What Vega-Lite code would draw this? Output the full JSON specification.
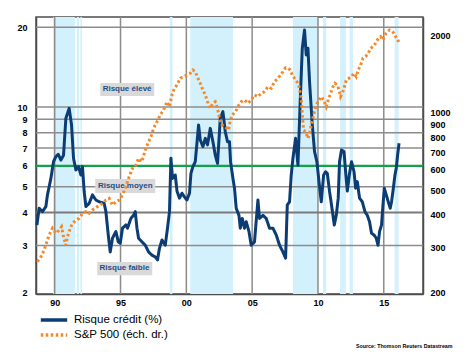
{
  "$schema": "https://vega.github.io/schema/vega-lite/v6.json",
  "width": 387,
  "height": 277,
  "autosize": {"type": "none"},
  "padding": {"left": 36, "top": 17, "right": 47, "bottom": 58},
  "background": "white",
  "config": {
    "font": "Liberation Sans",
    "view": {"stroke": "#4d4d4d", "strokeWidth": 1.5},
    "axis": {"labelFont": "Liberation Sans", "labelFontWeight": "bold", "labelFontSize": 9, "labelColor": "#000", "tickSize": 0, "tickOpacity": 0, "domainColor": "#4d4d4d", "domainWidth": 1.5, "grid": false, "title": null},
    "legend": {"padding": 0}
  },
  "resolve": {"scale": {"y": "independent"}},
  "layer": [
    {
      "layer": [
        {
          "data": {"values": [
            {"s": 1989.88, "e": 1991.55},
            {"s": 1991.68, "e": 1991.85},
            {"s": 1991.95, "e": 1992.08},
            {"s": 1998.75, "e": 1998.95},
            {"s": 2000.3, "e": 2003.55},
            {"s": 2008.1, "e": 2010.0},
            {"s": 2010.38, "e": 2010.63},
            {"s": 2011.68, "e": 2012.12},
            {"s": 2012.4, "e": 2012.66},
            {"s": 2015.82, "e": 2016.12}
          ]},
          "mark": {"type": "rect", "color": "#d3f1fc"},
          "encoding": {
            "x": {"field": "s", "type": "quantitative", "scale": {"domain": [1988.58, 2017.98], "nice": false, "zero": false},
              "axis": {"values": [1990, 1995, 2000, 2005, 2010, 2015], "labelExpr": "slice(toString(datum.value), 2)", "labelPadding": 4, "orient": "bottom",
                "title": "Source: Thomson Reuters Datastream", "titleFont": "Liberation Sans", "titleFontSize": 5.3, "titleFontWeight": "bold", "titleColor": "#000", "titleAnchor": "end", "titleAlign": "right", "titleBaseline": "middle", "titleX": 416, "titleY": 51}},
            "x2": {"field": "e"}
          }
        },
        {
          "data": {"values": [{"g": 1990}, {"g": 1995}, {"g": 2000}, {"g": 2005}, {"g": 2010}, {"g": 2015}]},
          "mark": {"type": "rule", "color": "#8c8c8c", "strokeWidth": 1.5},
          "encoding": {"x": {"field": "g", "type": "quantitative"}}
        },
        {
          "data": {"values": [{"g": 3}, {"g": 5}, {"g": 7}, {"g": 8}, {"g": 9}, {"g": 10}, {"g": 20}]},
          "mark": {"type": "rule", "color": "#8c8c8c", "strokeWidth": 1.5},
          "encoding": {"y": {"field": "g", "type": "quantitative"}}
        },
        {
          "data": {"values": [{"v": 4}]},
          "mark": {"type": "rule", "color": "#7a7a7a", "strokeWidth": 2.2},
          "encoding": {"y": {"field": "v", "type": "quantitative"}}
        },
        {
          "data": {"values": [{"v": 6}]},
          "mark": {"type": "rule", "color": "#13a14a", "strokeWidth": 2.2},
          "encoding": {"y": {"field": "v", "type": "quantitative"}}
        },
        {
          "data": {"values": [
            {"x1": 1993.46, "x2": 1997.56, "y1": 11.0, "y2": 12.33},
            {"x1": 1993.08, "x2": 1997.64, "y1": 4.74, "y2": 5.35},
            {"x1": 1993.23, "x2": 1997.41, "y1": 2.32, "y2": 2.6}
          ]},
          "mark": {"type": "rect", "color": "#d9d9d9"},
          "encoding": {
            "x": {"field": "x1", "type": "quantitative"},
            "x2": {"field": "x2"},
            "y": {"field": "y1", "type": "quantitative"},
            "y2": {"field": "y2"}
          }
        },
        {
          "data": {"values": [
            {"x": 1995.5, "y": 11.65, "label": "Risque élevé"},
            {"x": 1995.36, "y": 5.04, "label": "Risque moyen"},
            {"x": 1995.3, "y": 2.46, "label": "Risque faible"}
          ]},
          "mark": {"type": "text", "font": "Liberation Sans", "fontWeight": "bold", "fontSize": 8, "color": "#1f4e86", "align": "center", "baseline": "middle"},
          "encoding": {
            "x": {"field": "x", "type": "quantitative"},
            "y": {"field": "y", "type": "quantitative"},
            "text": {"field": "label"}
          }
        },
        {
          "data": {"values": [
            {"t":1988.65,"v":3.59},{"t":1988.82,"v":4.15},{"t":1989.07,"v":4.03},{"t":1989.33,"v":4.21},{"t":1989.45,"v":4.66},{"t":1989.71,"v":5.38},{"t":1989.91,"v":6.22},{"t":1990.09,"v":6.5},{"t":1990.27,"v":6.63},{"t":1990.47,"v":6.31},{"t":1990.67,"v":6.58},{"t":1990.85,"v":9.07},{"t":1991.1,"v":9.89},{"t":1991.28,"v":8.56},{"t":1991.43,"v":6.41},{"t":1991.61,"v":5.79},{"t":1991.81,"v":5.96},{"t":1991.99,"v":5.54},{"t":1992.11,"v":5.96},{"t":1992.24,"v":4.8},{"t":1992.37,"v":4.21},{"t":1992.62,"v":4.33},{"t":1992.87,"v":4.66},{"t":1993.13,"v":4.46},{"t":1993.38,"v":4.39},{"t":1993.76,"v":4.33},{"t":1993.89,"v":4.03},{"t":1994.07,"v":3.29},{"t":1994.22,"v":2.84},{"t":1994.39,"v":3.2},{"t":1994.65,"v":3.39},{"t":1994.83,"v":3.1},{"t":1994.98,"v":3.06},{"t":1995.15,"v":3.49},{"t":1995.41,"v":3.59},{"t":1995.53,"v":3.49},{"t":1995.79,"v":3.8},{"t":1995.99,"v":3.9},{"t":1996.12,"v":4.03},{"t":1996.25,"v":3.49},{"t":1996.37,"v":3.2},{"t":1996.63,"v":3.1},{"t":1996.88,"v":3.01},{"t":1997.13,"v":2.84},{"t":1997.39,"v":2.76},{"t":1997.64,"v":2.72},{"t":1997.81,"v":2.65},{"t":1997.96,"v":2.93},{"t":1998.15,"v":3.15},{"t":1998.4,"v":3.01},{"t":1998.57,"v":3.49},{"t":1998.72,"v":4.03},{"t":1998.83,"v":6.41},{"t":1998.95,"v":5.38},{"t":1999.16,"v":5.54},{"t":1999.29,"v":4.82},{"t":1999.48,"v":4.53},{"t":1999.67,"v":4.73},{"t":1999.84,"v":4.59},{"t":2000.05,"v":4.46},{"t":2000.24,"v":4.73},{"t":2000.35,"v":5.62},{"t":2000.5,"v":5.96},{"t":2000.68,"v":6.22},{"t":2000.93,"v":8.56},{"t":2001.06,"v":7.51},{"t":2001.26,"v":7.09},{"t":2001.44,"v":7.62},{"t":2001.61,"v":7.2},{"t":2001.82,"v":8.31},{"t":2002.02,"v":7.4},{"t":2002.2,"v":6.58},{"t":2002.37,"v":6.13},{"t":2002.58,"v":9.07},{"t":2002.78,"v":9.61},{"t":2002.96,"v":8.07},{"t":2003.13,"v":7.4},{"t":2003.28,"v":7.4},{"t":2003.36,"v":6.22},{"t":2003.54,"v":5.38},{"t":2003.66,"v":4.94},{"t":2003.79,"v":4.15},{"t":2004.0,"v":3.9},{"t":2004.1,"v":3.49},{"t":2004.25,"v":3.8},{"t":2004.42,"v":3.49},{"t":2004.55,"v":3.69},{"t":2004.76,"v":3.39},{"t":2004.93,"v":3.01},{"t":2005.18,"v":3.1},{"t":2005.44,"v":4.46},{"t":2005.56,"v":3.8},{"t":2005.82,"v":3.9},{"t":2006.07,"v":3.8},{"t":2006.32,"v":3.49},{"t":2006.58,"v":3.49},{"t":2006.83,"v":3.29},{"t":2007.08,"v":3.01},{"t":2007.34,"v":2.84},{"t":2007.54,"v":2.69},{"t":2007.67,"v":4.27},{"t":2007.84,"v":4.39},{"t":2007.97,"v":5.54},{"t":2008.1,"v":6.41},{"t":2008.3,"v":7.62},{"t":2008.48,"v":6.03},{"t":2008.66,"v":10.79},{"t":2008.81,"v":16.67},{"t":2008.98,"v":19.54},{"t":2009.11,"v":15.73},{"t":2009.24,"v":16.67},{"t":2009.36,"v":12.47},{"t":2009.57,"v":8.56},{"t":2009.74,"v":6.79},{"t":2009.92,"v":6.22},{"t":2010.08,"v":5.23},{"t":2010.25,"v":4.39},{"t":2010.43,"v":5.54},{"t":2010.58,"v":5.7},{"t":2010.71,"v":5.62},{"t":2010.88,"v":4.8},{"t":2011.03,"v":4.27},{"t":2011.14,"v":3.9},{"t":2011.24,"v":3.59},{"t":2011.39,"v":3.9},{"t":2011.54,"v":4.53},{"t":2011.64,"v":6.22},{"t":2011.79,"v":6.89},{"t":2011.98,"v":6.79},{"t":2012.1,"v":5.7},{"t":2012.23,"v":4.82},{"t":2012.4,"v":5.62},{"t":2012.55,"v":6.22},{"t":2012.74,"v":5.7},{"t":2012.86,"v":4.94},{"t":2012.99,"v":5.23},{"t":2013.16,"v":4.53},{"t":2013.37,"v":4.39},{"t":2013.57,"v":4.03},{"t":2013.75,"v":3.9},{"t":2013.92,"v":3.69},{"t":2014.07,"v":3.34},{"t":2014.26,"v":3.29},{"t":2014.43,"v":3.2},{"t":2014.56,"v":3.01},{"t":2014.68,"v":3.39},{"t":2014.83,"v":3.59},{"t":2014.94,"v":4.27},{"t":2015.04,"v":4.94},{"t":2015.19,"v":4.66},{"t":2015.34,"v":4.39},{"t":2015.49,"v":4.15},{"t":2015.59,"v":4.39},{"t":2015.7,"v":4.82},{"t":2015.85,"v":5.54},{"t":2015.95,"v":5.87},{"t":2016.05,"v":6.58},{"t":2016.16,"v":7.3}
          ]},
          "mark": {"type": "line", "strokeWidth": 3, "strokeJoin": "round"},
          "encoding": {
            "x": {"field": "t", "type": "quantitative"},
            "y": {"field": "v", "type": "quantitative",
              "scale": {"type": "log", "domain": [1.97, 21.87], "nice": false},
              "axis": {"values": [2, 3, 4, 5, 6, 7, 8, 9, 10, 20], "labelPadding": 9, "orient": "left"}},
            "color": {"datum": "Risque crédit (%)", "type": "nominal",
              "scale": {"domain": ["Risque crédit (%)", "S&P 500 (éch. dr.)"], "range": ["#0b3d74", "#f5892a"]},
              "legend": {"orient": "none", "legendX": 10, "legendY": 295, "title": null, "symbolType": "M-2.2,0H2.2", "symbolStrokeWidth": 3.5, "symbolSize": 144, "labelFontSize": 11.5, "labelFont": "Liberation Sans", "labelColor": "#000", "rowPadding": 0, "labelOffset": 12}},
            "strokeDash": {"datum": "Risque crédit (%)", "type": "nominal",
              "scale": {"domain": ["Risque crédit (%)", "S&P 500 (éch. dr.)"], "range": [[1, 0], [2.5, 2.5]]},
              "legend": {"orient": "none", "legendX": 10, "legendY": 295, "title": null, "symbolType": "M-2.2,0H2.2", "symbolStrokeWidth": 3.5, "symbolSize": 144, "labelFontSize": 11.5, "labelFont": "Liberation Sans", "labelColor": "#000", "rowPadding": 0, "labelOffset": 12}}
          }
        }
      ]
    },
    {
      "data": {"values": [
        {"t":1988.69,"v":263},{"t":1988.95,"v":275},{"t":1989.2,"v":292},{"t":1989.41,"v":315},{"t":1989.58,"v":334},{"t":1989.83,"v":355},{"t":1990.09,"v":339},{"t":1990.34,"v":349},{"t":1990.52,"v":360},{"t":1990.67,"v":329},{"t":1990.85,"v":305},{"t":1990.97,"v":329},{"t":1991.18,"v":355},{"t":1991.35,"v":371},{"t":1991.61,"v":382},{"t":1991.86,"v":388},{"t":1992.11,"v":406},{"t":1992.37,"v":412},{"t":1992.62,"v":406},{"t":1992.87,"v":418},{"t":1993.25,"v":431},{"t":1993.63,"v":444},{"t":1993.89,"v":457},{"t":1994.14,"v":464},{"t":1994.39,"v":437},{"t":1994.65,"v":450},{"t":1994.9,"v":457},{"t":1995.15,"v":478},{"t":1995.41,"v":515},{"t":1995.66,"v":564},{"t":1995.91,"v":607},{"t":1996.12,"v":616},{"t":1996.37,"v":664},{"t":1996.63,"v":644},{"t":1996.88,"v":716},{"t":1997.13,"v":771},{"t":1997.31,"v":806},{"t":1997.51,"v":869},{"t":1997.77,"v":922},{"t":1998.02,"v":980},{"t":1998.27,"v":1024},{"t":1998.53,"v":1103},{"t":1998.72,"v":1055},{"t":1998.91,"v":1172},{"t":1999.1,"v":1244},{"t":1999.29,"v":1281},{"t":1999.54,"v":1361},{"t":1999.79,"v":1381},{"t":2000.05,"v":1402},{"t":2000.3,"v":1424},{"t":2000.5,"v":1466},{"t":2000.68,"v":1444},{"t":2000.88,"v":1361},{"t":2001.06,"v":1301},{"t":2001.26,"v":1225},{"t":2001.44,"v":1172},{"t":2001.61,"v":1103},{"t":2001.82,"v":1040},{"t":2002.02,"v":1088},{"t":2002.2,"v":1103},{"t":2002.37,"v":1040},{"t":2002.52,"v":951},{"t":2002.71,"v":895},{"t":2002.96,"v":882},{"t":2003.21,"v":856},{"t":2003.32,"v":922},{"t":2003.49,"v":980},{"t":2003.74,"v":1009},{"t":2004.0,"v":1071},{"t":2004.17,"v":1103},{"t":2004.42,"v":1120},{"t":2004.68,"v":1088},{"t":2004.93,"v":1120},{"t":2005.18,"v":1172},{"t":2005.44,"v":1154},{"t":2005.69,"v":1190},{"t":2005.94,"v":1207},{"t":2006.2,"v":1262},{"t":2006.45,"v":1244},{"t":2006.7,"v":1320},{"t":2006.96,"v":1361},{"t":2007.16,"v":1402},{"t":2007.34,"v":1444},{"t":2007.54,"v":1496},{"t":2007.72,"v":1488},{"t":2007.9,"v":1466},{"t":2008.05,"v":1402},{"t":2008.22,"v":1361},{"t":2008.4,"v":1320},{"t":2008.56,"v":1262},{"t":2008.73,"v":1137},{"t":2008.81,"v":980},{"t":2008.91,"v":856},{"t":2009.06,"v":843},{"t":2009.24,"v":794},{"t":2009.36,"v":831},{"t":2009.49,"v":895},{"t":2009.67,"v":980},{"t":2009.87,"v":1071},{"t":2010.08,"v":1120},{"t":2010.25,"v":1154},{"t":2010.43,"v":1120},{"t":2010.53,"v":1088},{"t":2010.63,"v":1055},{"t":2010.78,"v":1120},{"t":2010.96,"v":1190},{"t":2011.14,"v":1262},{"t":2011.29,"v":1301},{"t":2011.47,"v":1281},{"t":2011.6,"v":1225},{"t":2011.72,"v":1154},{"t":2011.85,"v":1190},{"t":2011.98,"v":1244},{"t":2012.15,"v":1340},{"t":2012.36,"v":1361},{"t":2012.55,"v":1381},{"t":2012.74,"v":1424},{"t":2012.91,"v":1381},{"t":2013.06,"v":1466},{"t":2013.24,"v":1532},{"t":2013.42,"v":1627},{"t":2013.62,"v":1651},{"t":2013.82,"v":1702},{"t":2014.0,"v":1780},{"t":2014.18,"v":1806},{"t":2014.38,"v":1862},{"t":2014.58,"v":1946},{"t":2014.76,"v":1975},{"t":2014.94,"v":1918},{"t":2015.09,"v":2005},{"t":2015.27,"v":2065},{"t":2015.44,"v":2097},{"t":2015.65,"v":2065},{"t":2015.78,"v":2036},{"t":2015.9,"v":1975},{"t":2016.03,"v":1946},{"t":2016.16,"v":1862}
      ]},
      "mark": {"type": "line", "strokeWidth": 3, "strokeCap": "butt"},
      "encoding": {
        "x": {"field": "t", "type": "quantitative"},
        "y": {"field": "v", "type": "quantitative",
          "scale": {"type": "log", "domain": [197, 2356], "nice": false},
          "axis": {"values": [200, 300, 400, 500, 600, 700, 800, 900, 1000, 2000], "format": "d", "labelPadding": 7, "orient": "right"}},
        "color": {"datum": "S&P 500 (éch. dr.)", "type": "nominal"},
        "strokeDash": {"datum": "S&P 500 (éch. dr.)", "type": "nominal"}
      }
    }
  ]
}
